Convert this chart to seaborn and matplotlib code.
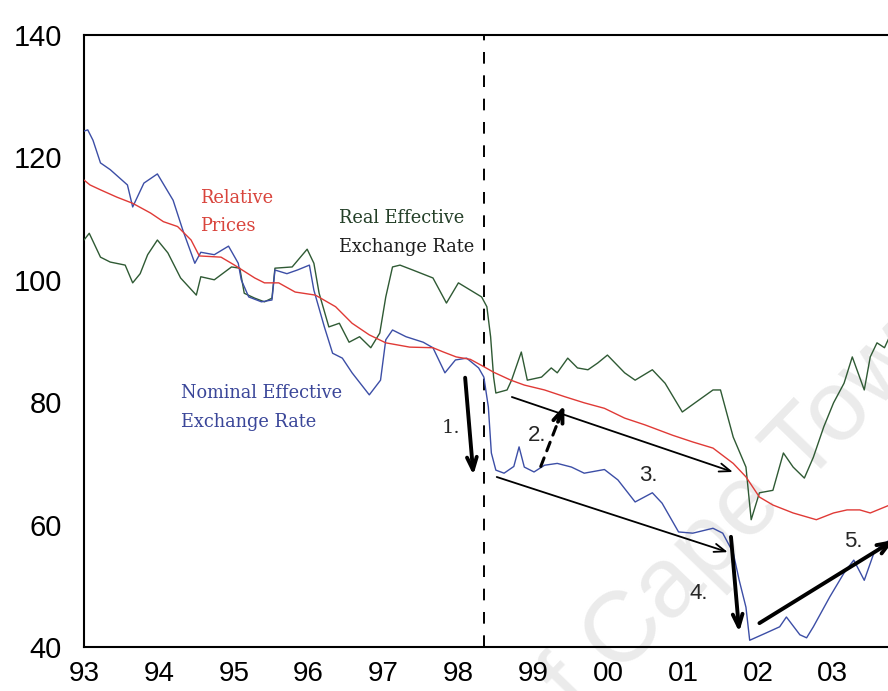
import matplotlib
matplotlib.use("Agg")
import matplotlib.pyplot as plt
import seaborn as sns
import pandas as pd

# ---------------- data ----------------
neer_year = [1993.00, 1993.05, 1993.12, 1993.22, 1993.35, 1993.58, 1993.65, 1993.80, 1993.98,
             1994.19, 1994.32, 1994.48, 1994.56, 1994.74, 1994.93, 1995.06, 1995.10, 1995.20,
             1995.37, 1995.51, 1995.55, 1995.71, 1995.85, 1996.01, 1996.07, 1996.21, 1996.32,
             1996.45, 1996.58, 1996.81, 1996.96, 1997.03, 1997.12, 1997.30, 1997.53, 1997.66,
             1997.82, 1997.96, 1998.11, 1998.27, 1998.34, 1998.40, 1998.44, 1998.50, 1998.61,
             1998.74, 1998.81, 1998.88, 1999.01, 1999.15, 1999.32, 1999.51, 1999.68, 1999.95,
             2000.13, 2000.36, 2000.59, 2000.72, 2000.94, 2001.13, 2001.40, 2001.53, 2001.67,
             2001.75, 2001.84, 2001.89, 2002.11, 2002.29, 2002.38, 2002.56, 2002.65, 2002.74,
             2002.96, 2003.15, 2003.28, 2003.42, 2003.55, 2003.63, 2003.82]
neer_val = [124.3, 124.5, 122.8, 119.1, 118.0, 115.5, 111.9, 115.8, 117.3,
            113.0, 108.1, 102.7, 104.5, 104.1, 105.5, 102.7, 100.0, 97.2,
            96.4, 96.7, 101.6, 101.0, 101.6, 102.4, 98.3, 92.3, 88.0,
            87.2, 84.8, 81.2, 83.6, 90.2, 91.8, 90.7, 89.8, 88.9,
            84.8, 86.9, 87.2, 85.6, 84.1, 79.2, 71.7, 68.9, 68.4,
            69.5, 72.7, 69.4, 68.6, 69.7, 70.0, 69.4, 68.4, 69.0,
            67.3, 63.7, 65.2, 63.5, 58.8, 58.6, 59.4, 58.6, 55.4,
            50.9, 46.5, 41.1, 42.3, 43.3, 44.9, 42.0, 41.5, 43.3,
            48.2, 52.1, 54.2, 50.9, 55.4, 56.4, 58.0]

rp_year = [1993.00, 1993.08, 1993.22, 1993.44, 1993.65, 1993.89, 1994.06, 1994.25, 1994.43,
           1994.54, 1994.83, 1995.01, 1995.28, 1995.41, 1995.60, 1995.82, 1996.09, 1996.36,
           1996.58, 1996.81, 1997.03, 1997.35, 1997.66, 1997.80, 1997.97, 1998.16, 1998.34,
           1998.47, 1998.70, 1998.88, 1999.15, 1999.42, 1999.68, 1999.95, 2000.22, 2000.49,
           2000.86, 2001.13, 2001.40, 2001.67, 2001.84, 2002.02, 2002.20, 2002.47, 2002.78,
           2003.01, 2003.19, 2003.36, 2003.50, 2003.82]
rp_val = [116.3, 115.5, 114.7, 113.5, 112.5, 110.9, 109.5, 108.7, 106.5,
          103.9, 103.7, 102.4, 100.3, 99.5, 99.5, 98.0, 97.5, 95.6,
          92.9, 91.0, 89.7, 89.0, 88.9, 88.2, 87.4, 87.0, 85.8,
          84.9, 83.6, 82.8, 82.0, 80.9, 79.9, 79.0, 77.4, 76.3,
          74.6, 73.5, 72.5, 70.0, 67.8, 64.5, 63.2, 61.9, 60.8,
          61.9, 62.4, 62.4, 61.9, 63.5]

reer_year = [1993.00, 1993.07, 1993.22, 1993.35, 1993.55, 1993.65, 1993.75, 1993.85, 1993.98,
             1994.12, 1994.29, 1994.50, 1994.56, 1994.74, 1994.97, 1995.08, 1995.14, 1995.28,
             1995.41, 1995.51, 1995.55, 1995.78, 1995.98, 1996.07, 1996.14, 1996.27, 1996.41,
             1996.54, 1996.68, 1996.83, 1996.95, 1997.03, 1997.12, 1997.22, 1997.39, 1997.66,
             1997.84, 1998.00, 1998.31, 1998.38, 1998.43, 1998.47, 1998.50, 1998.65, 1998.71,
             1998.84, 1998.92, 1999.11, 1999.24, 1999.32, 1999.46, 1999.59, 1999.73, 1999.86,
             1999.99, 2000.22, 2000.36, 2000.59, 2000.76, 2000.99, 2001.16, 2001.40, 2001.50,
             2001.67, 2001.84, 2001.91, 2002.02, 2002.20, 2002.34, 2002.47, 2002.62, 2002.74,
             2002.88, 2003.01, 2003.15, 2003.26, 2003.42, 2003.50, 2003.59, 2003.69, 2003.84]
reer_val = [106.5, 107.6, 103.7, 102.9, 102.4, 99.5, 101.0, 104.1, 106.5,
            104.4, 100.3, 97.5, 100.5, 100.0, 102.1, 101.9, 97.8, 97.0,
            96.4, 97.0, 101.9, 102.1, 105.0, 102.7, 97.8, 92.3, 92.9,
            89.8, 90.7, 88.9, 91.3, 97.2, 102.1, 102.4, 101.6, 100.3,
            96.2, 99.5, 97.2, 95.6, 90.7, 84.1, 81.5, 82.0, 83.6,
            88.2, 83.6, 84.1, 85.6, 84.8, 87.2, 85.6, 85.3, 86.4,
            87.7, 84.8, 83.6, 85.3, 83.1, 78.4, 79.9, 82.0, 82.0,
            74.3, 69.4, 60.8, 65.2, 65.6, 71.7, 69.4, 67.6, 71.0,
            76.0, 79.9, 83.1, 87.4, 82.0, 87.4, 89.7, 88.9, 92.9]

x_ticks = [1993, 1994, 1995, 1996, 1997, 1998, 1999, 2000, 2001, 2002, 2003]
x_tick_labels = ["93", "94", "95", "96", "97", "98", "99", "00", "01", "02", "03"]
y_ticks = [40, 60, 80, 100, 120, 140]
break_year = 1998.34

# ---------------- figure ----------------
sns.set_style("white")
plt.rcParams["font.family"] = ["Liberation Sans", "DejaVu Sans"]

fig = plt.figure(figsize=(8.88, 6.91), dpi=100)
ax = fig.add_axes([84 / 888, 1 - 647 / 691, 1 - 84 / 888 + 0.01, (647 - 35) / 691])

df_neer = pd.DataFrame({"year": neer_year, "value": neer_val})
df_rp = pd.DataFrame({"year": rp_year, "value": rp_val})
df_reer = pd.DataFrame({"year": reer_year, "value": reer_val})

sns.lineplot(data=df_reer, x="year", y="value", ax=ax, color="#2f5a34", lw=1.0,
             estimator=None, sort=False, zorder=3)
sns.lineplot(data=df_rp, x="year", y="value", ax=ax, color="#e03a36", lw=1.0,
             estimator=None, sort=False, zorder=4)
sns.lineplot(data=df_neer, x="year", y="value", ax=ax, color="#3c4ea6", lw=1.0,
             estimator=None, sort=False, zorder=3)

ax.axvline(break_year, color="black", lw=1.4, dashes=(6, 6), zorder=2)

ax.set_xlim(1993.0, 1993 + (888 - 84) / 74.2 + 0.02)
ax.set_ylim(40, 140)
ax.set_xticks(x_ticks)
ax.set_xticklabels(x_tick_labels)
ax.set_yticks(y_ticks)
ax.set_xlabel("")
ax.set_ylabel("")
ax.tick_params(axis="both", direction="out", length=7, width=1.3, labelsize=21,
               colors="black")
ax.tick_params(axis="x", pad=3, labelsize=20)
ax.tick_params(axis="y", pad=9)
for side in ["left", "bottom", "top"]:
    ax.spines[side].set_color("black")
    ax.spines[side].set_linewidth(1.5)
ax.spines["right"].set_visible(False)

# ---------------- labels ----------------
serif = ["DejaVu Serif"]
fs = 12.8
ax.text(1994.55, 113.4, "Relative", color="#d9443c", fontsize=fs, family=serif, va="center")
ax.text(1994.55, 108.8, "Prices", color="#d9443c", fontsize=fs, family=serif, va="center")
ax.text(1996.41, 110.1, "Real Effective", color="#233f27", fontsize=fs, family=serif, va="center")
ax.text(1996.41, 105.4, "Exchange Rate", color="#1e1e1e", fontsize=fs, family=serif, va="center")
ax.text(1994.29, 81.5, "Nominal Effective", color="#3a4699", fontsize=fs, family=serif, va="center")
ax.text(1994.29, 76.8, "Exchange Rate", color="#3a4699", fontsize=fs, family=serif, va="center")

# ---------------- arrows ----------------
thick = dict(arrowstyle="->,head_length=0.9,head_width=0.35", lw=2.8, color="black",
             shrinkA=0, shrinkB=0)
thin = dict(arrowstyle="->,head_length=0.8,head_width=0.3", lw=1.3, color="black",
            shrinkA=0, shrinkB=0)
ax.annotate("", xy=(1998.20, 68.1), xytext=(1998.09, 84.0), arrowprops=thick, zorder=6)
ax.annotate("", xy=(1999.415, 79.5), xytext=(1999.10, 69.5),
            arrowprops=dict(arrowstyle="-", lw=2.2, color="black", ls=(0, (3, 2.5)),
                            shrinkA=0, shrinkB=0), zorder=6)
ax.annotate("", xy=(1999.415, 79.5), xytext=(1999.33, 76.8), arrowprops=thick, zorder=6)
ax.annotate("", xy=(2001.666, 68.6), xytext=(1998.714, 80.85), arrowprops=thin, zorder=6)
ax.annotate("", xy=(2001.598, 55.5), xytext=(1998.512, 67.78), arrowprops=thin, zorder=6)
ax.annotate("", xy=(2001.75, 42.45), xytext=(2001.64, 58.0), arrowprops=thick, zorder=6)
ax.annotate("", xy=(2003.82, 57.5), xytext=(2002.02, 43.9), arrowprops=thick, zorder=6)

ax.text(1997.906, 75.8, "1.", fontsize=14, family=serif, ha="center", va="center")
ax.text(1999.05, 74.6, "2.", fontsize=16, ha="center", va="center")
ax.text(2000.534, 68.1, "3.", fontsize=16, ha="center", va="center")
ax.text(2001.207, 48.8, "4.", fontsize=16, ha="center", va="center")
ax.text(2003.28, 57.2, "5.", fontsize=16, ha="center", va="center")

# watermark
fig.text(735 / 888, 1 - 520 / 691, "of Cape Town", fontsize=72, color="#ebebeb",
         rotation=46, ha="center", va="center", rotation_mode="anchor", zorder=0)
ax.set_facecolor("none")
ax.set_zorder(1)

fig.savefig("out.png", dpi=100, facecolor="white")
